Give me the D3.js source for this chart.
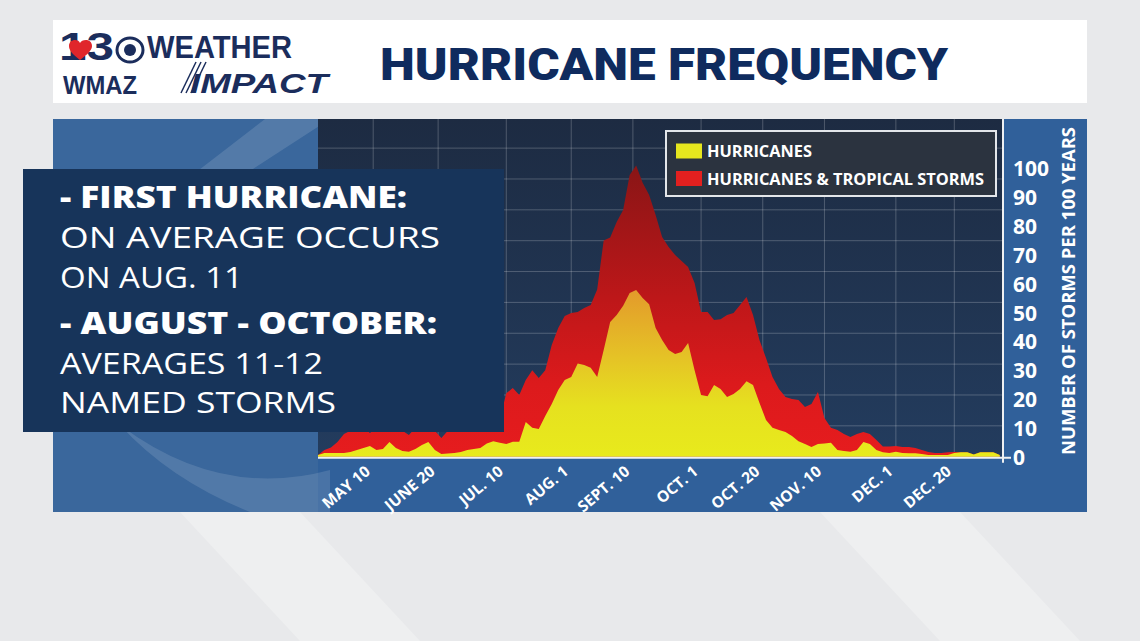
<!DOCTYPE html>
<html>
<head>
<meta charset="utf-8">
<script src="https://cdn.jsdelivr.net/npm/d3@7/dist/d3.min.js"></script>
<style>
  body { margin: 0; background: #e9eaec; }
  svg { display: block; }
</style>
</head>
<body>
<div id="chart"></div>
<script>
/* Hurricane Frequency - storms per 100 years through the season */

// Values read every 2 days from the start of the plotted season
const dayStep = 2;

// Hurricanes & tropical storms (per 100 years)
const totalStorms = [
  0.6, 2.3, 3.2, 5.1, 7.9, 9, 10, 10, 8.2, 10,
  11, 10, 10, 9, 7.5, 10, 11, 10, 9, 6.5,
  9, 10, 11, 11, 12, 12, 12, 13, 13, 22,
  23.8, 21.4, 26.6, 30, 27.3, 30, 38.7, 44.6, 48.8, 49.8,
  50.2, 51.6, 52.6, 58, 75, 76, 81.4, 85.5, 97.7, 101,
  95, 90.7, 83.8, 76.2, 72.7, 69.9, 67.9, 65.8, 60.2, 50.2,
  50.2, 47.4, 47.7, 49.1, 49.8, 52.6, 55.4, 49.1, 40.4, 34.2,
  27.6, 23.5, 20.7, 20, 19.7, 17.2, 18.3, 22.4, 13.4, 10,
  9.3, 7.9, 6.8, 7.9, 8.6, 7.9, 5.8, 3.5, 3.5, 3.7,
  3.4, 3.4, 3.0, 2.3, 1.6, 1.3, 1.3, 1.5, 1.6, 1.5,
  1.5, 0.8, 1.5, 1.5, 1.5, 0.6
];

// Hurricanes only (per 100 years)
const hurricanes = [
  0.6, 1.3, 1.3, 1.3, 1.3, 1.6, 2.3, 3, 3.7, 2.3,
  2.7, 5.1, 3, 2, 1.7, 2.7, 4.1, 5.1, 2.3, 0.9,
  1.1, 1.3, 1.6, 2.3, 2.7, 3, 4.6, 5.4, 4.8, 4.4,
  5.2, 5.2, 12, 10, 9.6, 14.1, 18.3, 23.1, 26.6, 27.6,
  32.3, 31.8, 30.8, 27.6, 37, 46.7, 49.1, 52.3, 56.8, 57.8,
  55, 52.9, 44.6, 40.5, 37, 35.6, 36.3, 39.4, 30, 21.4,
  21, 24.9, 23.5, 20.7, 21.7, 23.5, 26.2, 24.9, 18.6, 12.7,
  10, 9.3, 8.6, 7.2, 5.4, 4.4, 3.4, 4.4, 4.6, 4.8,
  2.3, 2, 1.7, 2.3, 5.1, 4.4, 2.3, 1.5, 1.3, 1.7,
  1.3, 1.2, 1.2, 0.9, 0.6, 0.6, 0.6, 0.6, 1.3, 1.5,
  1.5, 0.8, 1.5, 1.5, 1.5, 0.6
];

// X axis labels and the day each vertical gridline sits on
const tickDays = [17, 37, 58, 78, 97, 118, 137, 156, 178, 196];
const tickLabels = ['MAY 10', 'JUNE 20', 'JUL. 10', 'AUG. 1', 'SEPT. 10', 'OCT. 1', 'OCT. 20', 'NOV. 10', 'DEC. 1', 'DEC. 20'];

// Y axis labels and the (unevenly matched) background gridlines
const yTicks = [0, 10, 20, 30, 40, 50, 60, 70, 80, 90, 100];
const gridValues = [10.7, 21.4, 32.1, 42.8, 53.5, 64.2, 74.9, 85.6, 96.3, 107];

const legendItems = ['HURRICANES', 'HURRICANES & TROPICAL STORMS'];
const noteLines = [
  { text: '- FIRST HURRICANE:', bold: true },
  { text: 'ON AVERAGE OCCURS', bold: false },
  { text: 'ON AUG. 11', bold: false },
  { text: '- AUGUST - OCTOBER:', bold: true },
  { text: 'AVERAGES 11-12', bold: false },
  { text: 'NAMED STORMS', bold: false }
];
const noteWidths = [347, 380, 183, 377, 263, 276];

const seasonDays = 211;
const navy = '#0f2b5e';

function initChart() {
  const width = 1140;
  const height = 641;

  const svg = d3.select('#chart')
    .append('svg')
    .attr('width', width)
    .attr('height', height);

  const defs = svg.append('defs');

  // Plot frame
  const plot = { left: 318, right: 1003, top: 119, bottom: 456.7 };

  const x = d3.scaleLinear()
    .domain([0, seasonDays])
    .range([plot.left, plot.right]);

  const y = d3.scaleLinear()
    .domain([0, 100])
    .range([plot.bottom, 168.3]);

  // ============================================
  // PAGE + HEADER
  // ============================================

  svg.append('rect')
    .attr('width', width).attr('height', height)
    .attr('fill', '#e8e9eb');

  svg.append('path')
    .attr('d', 'M180,512 L300,512 L420,641 L300,641 Z M820,512 L960,512 L1080,641 L940,641 Z')
    .attr('fill', '#eeeff0');

  svg.append('rect')
    .attr('x', 53).attr('y', 20)
    .attr('width', 1034).attr('height', 83)
    .attr('fill', '#ffffff');

  svg.append('text')
    .attr('x', 380)
    .attr('y', 80)
    .attr('fill', navy)
    .attr('font-family', 'Roboto, Lato, sans-serif')
    .attr('font-size', '45px')
    .attr('font-weight', 900)
    .attr('textLength', 568)
    .attr('lengthAdjust', 'spacingAndGlyphs')
    .text('HURRICANE FREQUENCY');

  // Logo (sizes kept small enough that the stacked words don't collide)
  const logo = svg.append('g').attr('fill', '#1b2d5c');
  const logoFont = '"Liberation Sans", Arial, sans-serif';

  logo.append('text')
    .attr('x', 59).attr('y', 60)
    .attr('font-family', logoFont)
    .attr('font-size', '38px')
    .attr('font-weight', 700)
    .attr('textLength', 55)
    .attr('lengthAdjust', 'spacingAndGlyphs')
    .text('13');

  logo.append('path')
    .attr('d', 'M80,60 C72,54 69,50 69,46 C69,42 72,40 75,40 C78,40 79,41 80,43 C81,41 83,40 86,40 C89,40 92,42 92,46 C92,50 88,54 80,60 Z')
    .attr('fill', '#e0262b');

  logo.append('ellipse')
    .attr('cx', 130).attr('cy', 50).attr('rx', 13).attr('ry', 12)
    .attr('fill', 'none').attr('stroke', '#1b2d5c').attr('stroke-width', 3);

  logo.append('circle')
    .attr('cx', 130).attr('cy', 50).attr('r', 6);

  logo.append('text')
    .attr('x', 63).attr('y', 93.5)
    .attr('font-family', logoFont)
    .attr('font-size', '26px')
    .attr('font-weight', 700)
    .attr('textLength', 74)
    .attr('lengthAdjust', 'spacingAndGlyphs')
    .text('WMAZ');

  logo.append('text')
    .attr('x', 147).attr('y', 58)
    .attr('font-family', logoFont)
    .attr('font-size', '32px')
    .attr('font-weight', 700)
    .attr('textLength', 145)
    .attr('lengthAdjust', 'spacingAndGlyphs')
    .text('WEATHER');

  logo.append('text')
    .attr('x', 190).attr('y', 92.5)
    .attr('font-family', logoFont)
    .attr('font-size', '28px')
    .attr('font-style', 'italic')
    .attr('font-weight', 700)
    .attr('textLength', 138)
    .attr('lengthAdjust', 'spacingAndGlyphs')
    .text('IMPACT');

  logo.selectAll('.speed')
    .data([0, 5, 10])
    .enter()
    .append('line')
    .attr('class', 'speed')
    .attr('x1', d => 196 + d).attr('y1', 62)
    .attr('x2', d => 181 + d).attr('y2', 93)
    .attr('stroke', '#1b2d5c')
    .attr('stroke-width', 1.5);

  // ============================================
  // CHART PANEL BACKGROUND
  // ============================================

  svg.append('rect')
    .attr('x', 53).attr('y', 119)
    .attr('width', 1034).attr('height', 393)
    .attr('fill', '#30609a');

  svg.append('rect')
    .attr('x', 53).attr('y', 119)
    .attr('width', plot.left - 53).attr('height', 393)
    .attr('fill', '#3a679c');

  // Hurricane swirl, left side
  svg.append('path')
    .attr('d', 'M160,200 L265,119 L330,119 L205,200 Z')
    .attr('fill', '#ffffff')
    .attr('opacity', 0.13);

  svg.append('path')
    .attr('d', 'M120,425 Q220,500 330,470 L330,512 L250,512 Q170,480 120,425 Z')
    .attr('fill', '#ffffff')
    .attr('opacity', 0.12);

  const plotGrad = defs.append('linearGradient')
    .attr('id', 'plot-bg')
    .attr('x1', 0).attr('y1', 0).attr('x2', 0).attr('y2', 1);
  plotGrad.append('stop').attr('offset', '0%').attr('stop-color', '#1d2b42');
  plotGrad.append('stop').attr('offset', '100%').attr('stop-color', '#233c5e');

  svg.append('rect')
    .attr('x', plot.left).attr('y', plot.top)
    .attr('width', plot.right - plot.left)
    .attr('height', plot.bottom - plot.top)
    .attr('fill', 'url(#plot-bg)');

  // Gridlines
  const grid = svg.append('g')
    .attr('stroke', '#ffffff')
    .attr('stroke-opacity', 0.22)
    .attr('stroke-width', 1);

  grid.selectAll('.v-grid')
    .data(tickDays)
    .enter()
    .append('line')
    .attr('class', 'v-grid')
    .attr('x1', d => x(d)).attr('x2', d => x(d))
    .attr('y1', plot.top).attr('y2', plot.bottom);

  grid.selectAll('.h-grid')
    .data(gridValues)
    .enter()
    .append('line')
    .attr('class', 'h-grid')
    .attr('x1', plot.left).attr('x2', plot.right)
    .attr('y1', d => y(d)).attr('y2', d => y(d));

  // ============================================
  // AREAS
  // ============================================

  const redGrad = defs.append('linearGradient')
    .attr('id', 'red-fill')
    .attr('gradientUnits', 'userSpaceOnUse')
    .attr('x1', 0).attr('x2', 0)
    .attr('y1', y(100)).attr('y2', y(0));
  redGrad.append('stop').attr('offset', '0%').attr('stop-color', '#8a1516');
  redGrad.append('stop').attr('offset', '45%').attr('stop-color', '#bd1719');
  redGrad.append('stop').attr('offset', '75%').attr('stop-color', '#dc1a1c');
  redGrad.append('stop').attr('offset', '100%').attr('stop-color', '#e61c1e');

  const yellowGrad = defs.append('linearGradient')
    .attr('id', 'yellow-fill')
    .attr('gradientUnits', 'userSpaceOnUse')
    .attr('x1', 0).attr('x2', 0)
    .attr('y1', y(58)).attr('y2', y(0));
  yellowGrad.append('stop').attr('offset', '0%').attr('stop-color', '#e39a2b');
  yellowGrad.append('stop').attr('offset', '40%').attr('stop-color', '#e5c226');
  yellowGrad.append('stop').attr('offset', '70%').attr('stop-color', '#e6e11f');
  yellowGrad.append('stop').attr('offset', '100%').attr('stop-color', '#e8ea1c');

  const area = d3.area()
    .x((d, i) => x(i * dayStep))
    .y0(y(0))
    .y1(d => y(d))
    .curve(d3.curveLinear);

  svg.append('path')
    .datum(totalStorms)
    .attr('d', area)
    .attr('fill', 'url(#red-fill)');

  svg.append('path')
    .datum(hurricanes)
    .attr('d', area)
    .attr('fill', 'url(#yellow-fill)');

  // Baseline + Y axis line
  svg.append('line')
    .attr('x1', plot.left).attr('x2', plot.right + 8)
    .attr('y1', y(0) + 1).attr('y2', y(0) + 1)
    .attr('stroke', '#eef0f2')
    .attr('stroke-width', 2);

  svg.append('line')
    .attr('x1', plot.right).attr('x2', plot.right)
    .attr('y1', plot.top).attr('y2', y(0) + 6)
    .attr('stroke', '#eef0f2')
    .attr('stroke-width', 2);

  // Y tick labels
  svg.selectAll('.y-label')
    .data(yTicks)
    .enter()
    .append('text')
    .attr('class', 'y-label')
    .attr('x', 1013)
    .attr('y', d => y(d))
    .attr('dominant-baseline', 'central')
    .attr('fill', '#ffffff')
    .attr('font-family', '"Open Sans", sans-serif')
    .attr('font-size', '21px')
    .attr('font-weight', 700)
    .text(d => d);

  svg.append('text')
    .attr('transform', 'translate(1075,291) rotate(-90)')
    .attr('text-anchor', 'middle')
    .attr('fill', '#ffffff')
    .attr('font-family', '"Open Sans", sans-serif')
    .attr('font-size', '18px')
    .attr('font-weight', 700)
    .attr('textLength', 328)
    .attr('lengthAdjust', 'spacingAndGlyphs')
    .text('NUMBER OF STORMS PER 100 YEARS');

  // X tick labels
  svg.selectAll('.x-label')
    .data(tickDays)
    .enter()
    .append('text')
    .attr('class', 'x-label')
    .attr('transform', d => `translate(${x(d) - 2},473) rotate(-40)`)
    .attr('text-anchor', 'end')
    .attr('fill', '#ffffff')
    .attr('font-family', '"Open Sans", sans-serif')
    .attr('font-size', '15.5px')
    .attr('font-weight', 700)
    .text((d, i) => tickLabels[i]);

  // ============================================
  // LEGEND
  // ============================================

  const legend = svg.append('g');

  legend.append('rect')
    .attr('x', 666).attr('y', 131)
    .attr('width', 330).attr('height', 65)
    .attr('fill', '#2b333f')
    .attr('stroke', '#e3e6ea')
    .attr('stroke-width', 2);

  const legendColors = ['#e6e61e', '#e3201f'];
  const legendWidths = [105, 277];

  legend.selectAll('.legend-swatch')
    .data(legendItems)
    .enter()
    .append('rect')
    .attr('class', 'legend-swatch')
    .attr('x', 676)
    .attr('y', (d, i) => 143.5 + i * 27.5)
    .attr('width', 26).attr('height', 15)
    .attr('fill', (d, i) => legendColors[i]);

  legend.selectAll('.legend-label')
    .data(legendItems)
    .enter()
    .append('text')
    .attr('class', 'legend-label')
    .attr('x', 707)
    .attr('y', (d, i) => 157 + i * 27.5)
    .attr('fill', '#ffffff')
    .attr('font-family', '"Open Sans", sans-serif')
    .attr('font-size', '16px')
    .attr('font-weight', 700)
    .attr('textLength', (d, i) => legendWidths[i])
    .attr('lengthAdjust', 'spacingAndGlyphs')
    .text(d => d);

  // ============================================
  // NOTE BOX
  // ============================================

  svg.append('rect')
    .attr('x', 23).attr('y', 169)
    .attr('width', 481).attr('height', 263)
    .attr('fill', '#17345a');

  const lineY = [208, 247.5, 288, 333.5, 373.5, 412.5];

  svg.selectAll('.note-line')
    .data(noteLines)
    .enter()
    .append('text')
    .attr('class', 'note-line')
    .attr('x', 60)
    .attr('y', (d, i) => lineY[i])
    .attr('fill', '#ffffff')
    .attr('font-family', '"Open Sans", sans-serif')
    .attr('font-size', '30px')
    .attr('font-weight', d => d.bold ? 800 : 400)
    .attr('textLength', (d, i) => noteWidths[i])
    .attr('lengthAdjust', 'spacingAndGlyphs')
    .text(d => d.text);
}

initChart();
</script>
</body>
</html>
